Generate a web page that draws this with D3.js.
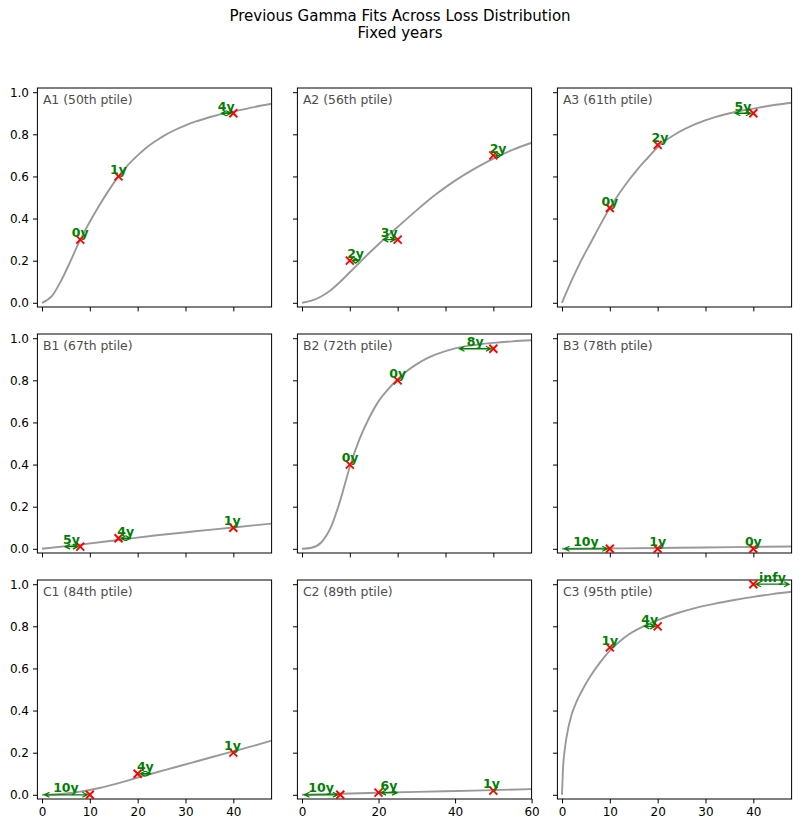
<!DOCTYPE html>
<html>
<head>
<meta charset="utf-8">
<script src="https://cdn.jsdelivr.net/npm/d3@7"></script>
<style>
  html, body { margin: 0; padding: 0; background: #fff; }
  svg { display: block; font-family: "DejaVu Sans", sans-serif; }
</style>
</head>
<body>
<svg id="chart" width="800" height="829"></svg>
<script>
// ---------------- data ----------------
const panelNames = ["A1", "A2", "A3", "B1", "B2", "B3", "C1", "C2", "C3"];
const ptiles = [50, 56, 61, 67, 72, 78, 84, 89, 95];
const xMaxes = [48, 48, 48, 48, 48, 48, 48, 60, 48];

// observed points (red x)
const pointX = [
  [8, 16, 40], [10, 20, 40], [10, 20, 40],
  [8, 16, 40], [10, 20, 40], [10, 20, 40],
  [10, 20, 40], [10, 20, 50], [10, 20, 40]
];
const pointY = [
  [0.30, 0.60, 0.90], [0.20, 0.30, 0.70], [0.45, 0.75, 0.90],
  [0.01, 0.05, 0.10], [0.40, 0.80, 0.95], [0.00, 0.00, 0.00],
  [0.00, 0.10, 0.20], [0.00, 0.01, 0.02], [0.70, 0.80, 1.00]
];
const pointLabels = [
  ["0y", "1y", "4y"], ["2y", "3y", "2y"], ["0y", "2y", "5y"],
  ["5y", "4y", "1y"], ["0y", "0y", "8y"], ["10y", "1y", "0y"],
  ["10y", "4y", "1y"], ["10y", "6y", "1y"], ["1y", "4y", "infy"]
];
// x where the fitted curve reaches each point's level (other arrow end)
const crossX = [
  [8, 16, 37], [12.4, 16.5, 42], [10, 21, 35.7],
  [4.3, 19, 39.5], [10.1, 20, 32.4], [0, 20, 40],
  [0, 23.2, 39.6], [0, 25.5, 49], [10, 16.7, 48]
];

// fitted gamma CDF curves
const curveX = [
  [0, 2, 4, 6, 8, 10, 12, 14, 16, 18, 20, 22, 24, 26, 28, 30, 32, 34, 36, 38, 40, 44, 48],
  [0, 2, 4, 6, 8, 10, 12, 14, 16, 18, 20, 24, 28, 32, 36, 40, 44, 48],
  [0, 2, 4, 6, 8, 10, 12, 14, 16, 18, 20, 24, 28, 32, 36, 40, 44, 48],
  [0, 8, 16, 24, 32, 40, 48],
  [0, 2, 4, 6, 8, 10, 12, 14, 16, 18, 20, 22, 24, 26, 28, 32, 36, 40, 44, 48],
  [0, 12, 24, 36, 48],
  [0, 4, 8, 12, 16, 20, 24, 28, 32, 36, 40, 44, 48],
  [0, 15, 30, 45, 60],
  [0, 0.2, 0.5, 1, 2, 3, 4, 6, 8, 10, 12, 14, 16, 18, 20, 24, 28, 32, 36, 40, 44, 48]
];
const curveY = [
  [0, 0.03, 0.105, 0.20, 0.30, 0.385, 0.463, 0.535, 0.60, 0.655, 0.70, 0.74, 0.772, 0.80, 0.823, 0.843, 0.86, 0.874, 0.887, 0.898, 0.908, 0.928, 0.945],
  [0, 0.01, 0.03, 0.06, 0.10, 0.145, 0.19, 0.235, 0.278, 0.32, 0.36, 0.44, 0.515, 0.58, 0.636, 0.685, 0.726, 0.76],
  [0, 0.105, 0.20, 0.285, 0.37, 0.45, 0.52, 0.583, 0.64, 0.69, 0.74, 0.805, 0.85, 0.882, 0.905, 0.922, 0.938, 0.95],
  [0, 0.02, 0.042, 0.064, 0.083, 0.101, 0.12],
  [0, 0.005, 0.03, 0.10, 0.23, 0.39, 0.52, 0.62, 0.70, 0.757, 0.805, 0.845, 0.877, 0.903, 0.923, 0.952, 0.968, 0.978, 0.985, 0.99],
  [0, 0.002, 0.005, 0.008, 0.011],
  [0, 0.004, 0.015, 0.032, 0.055, 0.082, 0.107, 0.132, 0.157, 0.182, 0.206, 0.231, 0.257],
  [0, 0.007, 0.014, 0.02, 0.027],
  [0, 0.12, 0.20, 0.28, 0.38, 0.44, 0.487, 0.565, 0.63, 0.685, 0.727, 0.762, 0.788, 0.81, 0.829, 0.862, 0.888, 0.908, 0.925, 0.94, 0.953, 0.964]
];

const yTicks = [0, 0.2, 0.4, 0.6, 0.8, 1.0];
const xTicksByMax = { 48: [0, 10, 20, 30, 40], 60: [0, 20, 40, 60] };
const titleLines = ["Previous Gamma Fits Across Loss Distribution", "Fixed years"];

// ---------------- layout ----------------
const svg = d3.select("#chart");
const colLeft = [37.4, 297.4, 557.4];
const rowTop = [88, 334, 580];
const axW = 234.2, axH = 219;

svg.append("g").selectAll("text").data(titleLines).join("text")
  .attr("x", 400).attr("y", (d, i) => 21 + i * 17)
  .attr("text-anchor", "middle").attr("font-size", 15).attr("fill", "#000")
  .text(d => d);

const defs = svg.append("defs");

panelNames.forEach((name, p) => {
  const r = Math.floor(p / 3), c = p % 3;
  const left = colLeft[c], top = rowTop[r];
  const xmax = xMaxes[p];
  const x = d3.scaleLinear().domain([-0.02 * xmax, xmax]).range([left, left + axW]);
  const y = d3.scaleLinear().domain([-0.02, 1.02]).range([top + axH, top]);
  const g = svg.append("g");

  defs.append("clipPath").attr("id", "clip" + p)
    .append("rect").attr("x", left).attr("y", top).attr("width", axW).attr("height", axH);

  // axes
  const xa = d3.axisBottom(x).tickValues(xTicksByMax[xmax]).tickSize(4.4).tickPadding(4)
    .tickFormat(r === 2 ? d3.format("d") : () => "");
  const ya = d3.axisLeft(y).tickValues(yTicks).tickSize(4.4).tickPadding(4)
    .tickFormat(c === 0 ? d3.format(".1f") : () => "");
  const gx = g.append("g").attr("transform", `translate(0,${top + axH})`).call(xa);
  const gy = g.append("g").attr("transform", `translate(${left},0)`).call(ya);
  [gx, gy].forEach(a => {
    a.select(".domain").remove();
    a.selectAll("line").attr("stroke", "#000").attr("stroke-width", 1);
    a.selectAll("text").attr("font-size", 12).attr("fill", "#000").attr("font-family", "DejaVu Sans");
  });

  // curve
  const pts = curveX[p].map((v, i) => [v, curveY[p][i]]);
  g.append("path").datum(pts)
    .attr("clip-path", `url(#clip${p})`)
    .attr("fill", "none").attr("stroke", "#999").attr("stroke-width", 1.9)
    .attr("d", d3.line().x(d => x(d[0])).y(d => y(d[1])).curve(d3.curveMonotoneX));

  // spine box
  g.append("rect").attr("x", left).attr("y", top).attr("width", axW).attr("height", axH)
    .attr("fill", "none").attr("stroke", "#000").attr("stroke-width", 1);

  // panel label
  g.append("text").attr("x", left + 5.5).attr("y", top + 15.5)
    .attr("font-size", 12.4).attr("fill", "#4d4d4d").text(`${name} (${ptiles[p]}th ptile)`);

  // markers
  pointX[p].forEach((px, i) => {
    const cx = x(px), cy = y(pointY[p][i]), s = 4;
    g.append("path")
      .attr("d", `M${cx - s},${cy - s}L${cx + s},${cy + s}M${cx - s},${cy + s}L${cx + s},${cy - s}`)
      .attr("stroke", "#ff0000").attr("stroke-width", 1.9).attr("fill", "none");
  });

  // annotations (double-headed arrows + labels)
  pointX[p].forEach((px, i) => {
    const yy = y(pointY[p][i]);
    const xa0 = x(Math.min(px, crossX[p][i])), xa1 = x(Math.max(px, crossX[p][i]));
    const len = xa1 - xa0;
    if (len > 6) {
      const a = xa0 + 2.5, b = xa1 - 2.5;
      const hl = Math.min(5, (b - a) / 2), hw = 2.5;
      g.append("path")
        .attr("d", `M${a},${yy}L${b},${yy}` +
          `M${a + hl},${yy - hw}L${a},${yy}L${a + hl},${yy + hw}` +
          `M${b - hl},${yy - hw}L${b},${yy}L${b - hl},${yy + hw}`)
        .attr("stroke", "green").attr("stroke-width", 1.3).attr("fill", "none");
    }
    g.append("text").attr("x", (xa0 + xa1) / 2).attr("y", yy - 2.5)
      .attr("text-anchor", "middle").attr("font-size", 12.5).attr("font-weight", "bold")
      .attr("fill", "green").text(pointLabels[p][i]);
  });
});
</script>
</body>
</html>
